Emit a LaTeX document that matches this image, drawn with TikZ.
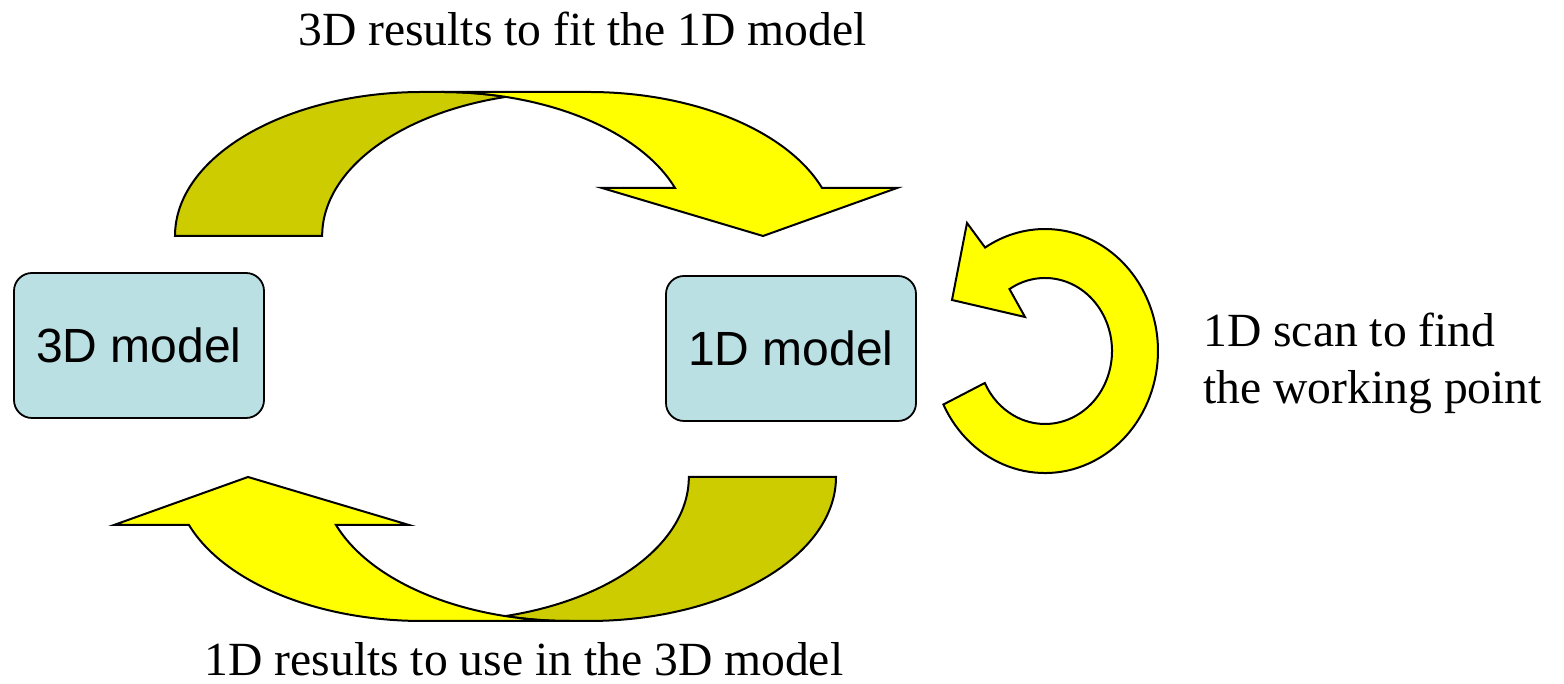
\documentclass[tikz,border=0pt]{standalone}
\usepackage{fontspec}
\setmainfont{Liberation Serif}
\setsansfont{Liberation Sans}
\usetikzlibrary{positioning}
\definecolor{bandfront}{RGB}{255,255,0}
\definecolor{bandback}{RGB}{204,204,0}
\definecolor{modelblue}{RGB}{187,224,227}

% bent band arrow: dark back half on the left, bright front half with the head
\tikzset{
  bentarrow/.pic={
    \filldraw[back] (175,448) arc[start angle=180, end angle=90, x radius=123.8pt, y radius=72pt]
      -- (441.6,592) arc[start angle=90, end angle=75, x radius=123.8pt, y radius=72pt]
      arc[start angle=105, end angle=180, x radius=123.8pt, y radius=72pt] -- cycle;
    \filldraw[front] (441.6,592) -- (588.6,592)
      arc[start angle=90, end angle=19.47, x radius=123.8pt, y radius=72pt]
      -- (897,496) -- (763,448) -- (602,496) -- (675,496)
      arc[start angle=19.47, end angle=90, x radius=123.8pt, y radius=72pt] -- cycle;
  }
}

\begin{document}
\begin{tikzpicture}[
  x=0.5pt, y=0.5pt,
  model/.style={draw, line width=0.9pt, fill=modelblue, rounded corners=9pt,
    minimum width=125pt, minimum height=72.5pt,
    font=\sffamily\fontsize{24pt}{28pt}\selectfont},
  note/.style={font=\fontsize{23.8pt}{28.5pt}\selectfont, inner sep=0pt},
  front/.style={fill=bandfront, draw=black, line width=1pt},
  back/.style={fill=bandback, draw=black, line width=1pt}
]
  \useasboundingbox (0,0) rectangle (1564,684);

  \node[model] (threeD) at (139,338.5) {3D model};
  \node[model] (oneD) at (791,335.5) {1D model};

  % exchange between the two models
  \pic (fit) {bentarrow};
  \pic[rotate around={180:(505.5,327.5)}] (use) {bentarrow};

  % scan loop next to the 1D model
  \filldraw[front] (943.4,279.5)
    arc[start angle=206, end angle=482, x radius=56.5pt, y radius=61pt]
    -- (967,461) -- (952,384) -- (1025,367) -- (1009.5,394.9)
    arc[start angle=482, end angle=206, x radius=33.5pt, y radius=36.5pt] -- cycle;

  \node[note, anchor=base] (fitlbl) at (582.5,638) {3D results to fit the 1D model};
  \node[note, anchor=base] (uselbl) at (524,8) {1D results to use in the 3D model};
  \node[note, anchor=west, align=left] (scanlbl) at (1203,320.5)
    {1D scan to find\\the working point};
\end{tikzpicture}
\end{document}
